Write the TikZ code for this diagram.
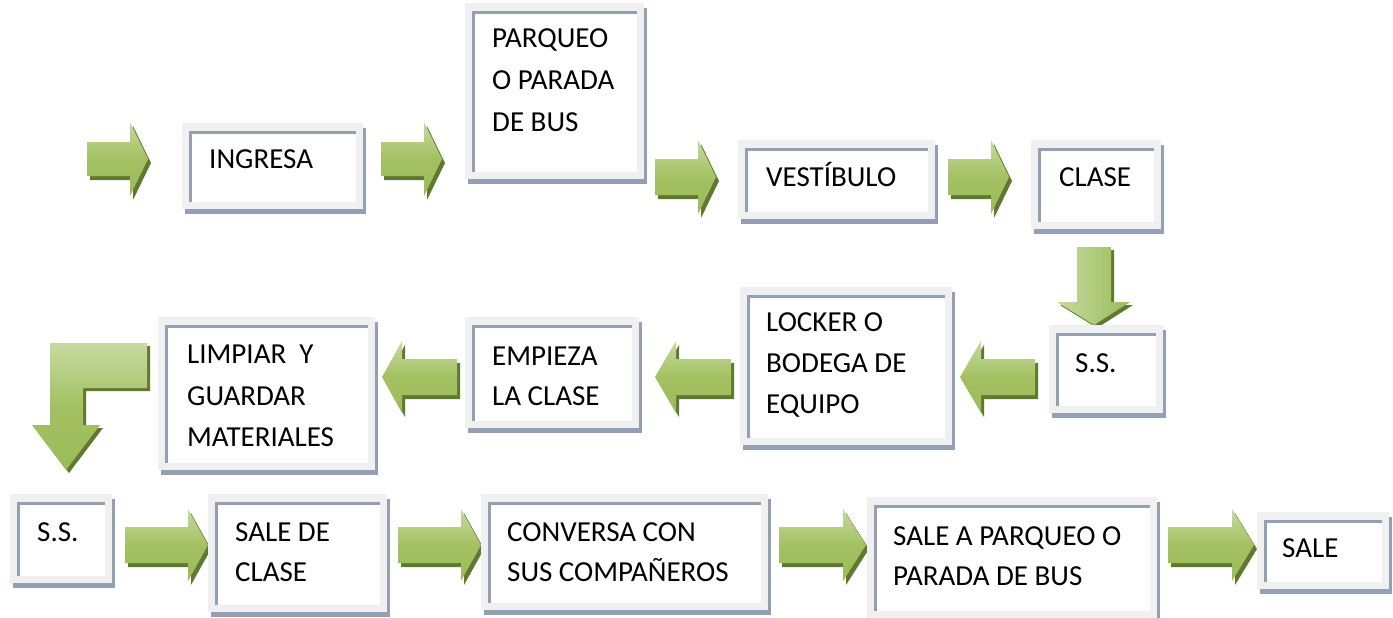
\documentclass[tikz,border=0pt]{standalone}
\usepackage{fontspec}
\setmainfont{Carlito}
\definecolor{frameg}{HTML}{F0F0F0}
\definecolor{lineg}{HTML}{93A0B3}
\definecolor{grlight}{HTML}{C6DAA0}
\definecolor{grmid}{HTML}{A3C162}
\definecolor{grdark}{HTML}{9BBB59}
\definecolor{grshadow}{HTML}{5F7A30}
\tikzset{
  txt/.style={anchor=base west, inner sep=0pt, font=\fontsize{29}{35}\selectfont, text=black},
  arrshadow/.style={fill=grshadow},
  arrfill/.style={top color=grlight, bottom color=grdark, middle color=grmid},
  varrfill/.style={left color=grlight, right color=grdark},
}
% flow box: name, x1, y1, x2, y2 (pixels, y downwards)
\newcommand\flowbox[5]{%
  \fill[lineg] (#2+3,#3+5) rectangle (#4+3,#5+5);
  \fill[frameg] (#2,#3) rectangle (#4,#5);
  \fill[white] (#2+7,#3+8) rectangle (#4-7,#5-7);
  \draw[lineg, line width=3pt] (#2+8.5,#5-7) -- (#2+8.5,#3+9.5) -- (#4-7,#3+9.5);
  \coordinate (#1) at (#2,#3);
}
% horizontal block arrow: body start x, head base x, tip x, mid y, body half, head half
\newcommand\harrow[6]{%
  \begin{scope}[shift={(3,4)}]
  \fill[arrshadow] (#1,#4-#5)--(#2,#4-#5)--(#2,#4-#6)--(#3,#4)--(#2,#4+#6)--(#2,#4+#5)--(#1,#4+#5)--cycle;
  \end{scope}
  \shade[arrfill] (#1,#4-#5)--(#2,#4-#5)--(#2,#4-#6)--(#3,#4)--(#2,#4+#6)--(#2,#4+#5)--(#1,#4+#5)--cycle;
}
\begin{document}
\begin{tikzpicture}[x=1pt,y=-1pt]
\useasboundingbox (0,0) rectangle (1393,618);
\fill[white] (0,0) rectangle (1393,618);

% ---------- row 1 ----------
\harrow{87}{130}{148}{159}{17}{37}
\flowbox{ingresa}{182}{123}{363}{209}
\node[txt] (t1) at (209,168) {INGRESA};

\harrow{381}{424}{442}{159}{17}{37}
\flowbox{parqueo}{465}{3}{644}{179}
\node[txt] (t2a) at (492,48) {PARQUEO};
\node[txt] (t2b) at (492,90) {O PARADA};
\node[txt] (t2c) at (492,131) {DE BUS};

\harrow{655}{698}{716}{177}{18}{37}
\flowbox{vestibulo}{738}{140}{935}{219}
\node[txt] (t3) at (766,186) {VESTÍBULO};

\harrow{948}{991}{1009}{177}{18}{37}
\flowbox{clase}{1031}{140}{1161}{229}
\node[txt] (t4) at (1059,186) {CLASE};

% ---------- down arrow ----------
\begin{scope}[shift={(3,3)}]
\fill[arrshadow] (1077,247)--(1111,247)--(1111,302)--(1130,302)--(1094,325)--(1057,302)--(1077,302)--cycle;
\end{scope}
\shade[varrfill] (1077,247)--(1111,247)--(1111,302)--(1130,302)--(1094,325)--(1057,302)--(1077,302)--cycle;

% ---------- row 2 ----------
\flowbox{ssright}{1049}{325}{1163}{413}
\node[txt] (t5) at (1075,372) {S.S.};

\harrow{1035}{981}{960}{377}{18}{36}
\flowbox{locker}{740}{287}{952}{445}
\node[txt] (t6a) at (766,331) {LOCKER O};
\node[txt] (t6b) at (766,372) {BODEGA DE};
\node[txt] (t6c) at (766,413) {EQUIPO};

\harrow{731}{676}{655}{377}{18}{36}
\flowbox{empieza}{465}{317}{639}{428}
\node[txt] (t7a) at (492,365) {EMPIEZA};
\node[txt] (t7b) at (492,405) {LA CLASE};

\harrow{457}{402}{382}{377}{18}{36}
\flowbox{limpiar}{158}{317}{375}{470}
\node[txt] (t8a) at (187,363) {LIMPIAR\ \ Y};
\node[txt] (t8b) at (187,405) {GUARDAR};
\node[txt] (t8c) at (187,446) {MATERIALES};

% ---------- bent arrow ----------
\begin{scope}[shift={(3,3)}]
\fill[arrshadow] (50,343)--(147,343)--(147,388)--(83,388)--(83,425)--(100,425)--(66,470)--(32,425)--(50,425)--cycle;
\end{scope}
\shade[arrfill] (50,343)--(147,343)--(147,388)--(83,388)--(83,425)--(100,425)--(66,470)--(32,425)--(50,425)--cycle;

% ---------- row 3 ----------
\flowbox{ssleft}{10}{494}{112}{583}
\node[txt] (t9) at (37,541) {S.S.};

\harrow{125}{188}{208}{545}{18}{36}
\flowbox{saledeclase}{208}{494}{387}{612}
\node[txt] (t10a) at (235,541) {SALE DE};
\node[txt] (t10b) at (235,581) {CLASE};

\harrow{398}{461}{481}{545}{18}{36}
\flowbox{conversa}{481}{494}{768}{610}
\node[txt] (t11a) at (507,541) {CONVERSA CON};
\node[txt] (t11b) at (507,581) {SUS COMPAÑEROS};

\harrow{779}{843}{866}{545}{18}{36}
\flowbox{saleparqueo}{867}{497}{1157}{618}
\node[txt] (t12a) at (893,545) {SALE A PARQUEO O};
\node[txt] (t12b) at (893,585) {PARADA DE BUS};

\harrow{1168}{1232}{1254}{545}{18}{36}
\flowbox{sale}{1257}{512}{1389}{589}
\node[txt] (t13) at (1282,557) {SALE};
\end{tikzpicture}
\end{document}
